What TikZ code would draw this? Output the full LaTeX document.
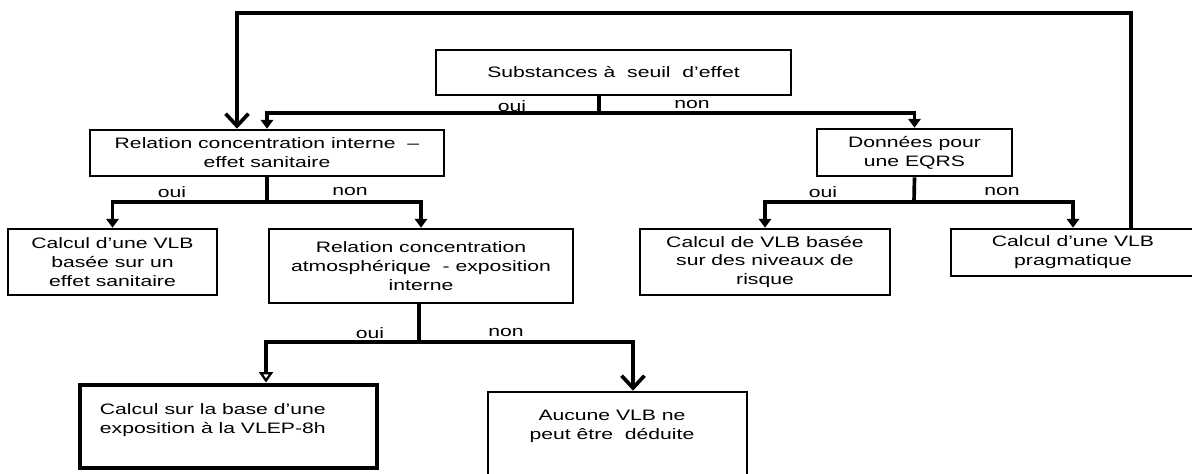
\documentclass[tikz,border=0pt]{standalone}
\usepackage{fontspec}
\setmainfont{Liberation Sans}[FakeStretch=1.4]
\usetikzlibrary{arrows.meta}

\tikzset{
  every node/.style={font=\fontsize{8.6}{10.8}\selectfont},
  box/.style={draw, line width=1.5pt, align=center, inner sep=0pt},
  thickbox/.style={draw, line width=2.8pt, inner sep=0pt},
  wire/.style={line width=2.1pt},
  conn/.style={wire, -{Triangle[width=7pt,length=5pt]}},
  openconn/.style={wire, -{Triangle[open,width=8pt,length=6pt,line width=1.3pt]}},
  bigconn/.style={wire, -{Straight Barb[width=13pt,length=7pt]}},
  lbl/.style={inner sep=0pt},
}

\begin{document}
\begin{tikzpicture}[x=0.02cm, y=-0.02cm]
    \useasboundingbox (0,0) rectangle (1192,473);
    % boxes
    \node[box, minimum width=7.1cm, minimum height=0.9cm] (subst) at (613.5,72.5)
      {Substances à~ seuil~ d’effet};
    \node[box, minimum width=7.08cm, minimum height=0.92cm] (relint) at (267,153)
      {Relation concentration interne~ –\\effet sanitaire};
    \node[box, minimum width=3.9cm, minimum height=0.94cm] (donnees) at (914.5,152.5)
      {Données pour\\une EQRS};
    \node[box, minimum width=4.18cm, minimum height=1.32cm] (vlbsan) at (112.5,262)
      {Calcul d’une VLB\\basée sur un\\effet sanitaire};
    \node[box, minimum width=6.08cm, minimum height=1.48cm] (relatm) at (421,266)
      {Relation concentration\\atmosphérique~ - exposition\\interne};
    \node[box, minimum width=5cm, minimum height=1.32cm] (vlbrisk) at (765,262)
      {Calcul de VLB basée\\sur des niveaux de\\risque};
    \node[box, minimum width=4.88cm, minimum height=0.94cm] (vlbprag) at (1073,252.5)
      {Calcul d’une VLB\\pragmatique};
    \node[thickbox, minimum width=5.94cm, minimum height=1.66cm] (vlep) at (228.5,426.5) {};
    \node[box, minimum width=5.18cm, minimum height=1.96cm] (aucune) at (617.5,441) {};
    \node[lbl, align=left, anchor=north west] (vleptxt)
      at ([xshift=0.44cm,yshift=-0.42cm]vlep.north west)
      {Calcul sur la base d’une\\exposition à la VLEP-8h};
    \node[lbl, align=center, anchor=north] (aucunetxt)
      at ([xshift=-0.11cm,yshift=-0.38cm]aucune.north)
      {Aucune VLB ne\\peut être~ déduite};

    % branch points
    \coordinate (s0) at (599,113);
    \coordinate (s1) at (267,202);
    \coordinate (s2) at (914,202);
    \coordinate (s3) at (419,342);
    \coordinate (v1) at (266,342);
    \coordinate (a1) at (633,342);
    \coordinate (l0) at (1131,13);
    \coordinate (l1) at (237,13);

    % connectors
    \draw[wire] (s0 |- subst.south) -- (s0);
    \draw[conn] (s0) -| (relint.north);
    \draw[conn] (s0) -| (donnees.north);
    \draw[wire] (relint.south) -- (s1);
    \draw[conn] (s1) -| (vlbsan.north);
    \draw[conn] (s1) -| (relatm.north);
    \draw[wire] (donnees.south) -- (s2);
    \draw[conn] (s2) -| (vlbrisk.north);
    \draw[conn] (s2) -| (vlbprag.north);
    \draw[wire] (s3 |- relatm.south) -- (s3);
    \draw[openconn] (s3) -- (v1) -- (v1 |- vlep.north);
    \draw[bigconn] (s3) -- (a1) -- (a1 |- aucune.north);
    \draw[bigconn] (l0 |- vlbprag.north) -- (l0) -- (l1) -- (l1 |- relint.north);

    % labels
    \node[lbl] (oui0) at (512,106) {oui};
    \node[lbl] (non0) at (692,105) {non};
    \node[lbl] (oui1) at (172,192) {oui};
    \node[lbl] (non1) at (350,192) {non};
    \node[lbl] (oui2) at (823,192) {oui};
    \node[lbl] (non2) at (1002,192) {non};
    \node[lbl] (oui3) at (370,333) {oui};
    \node[lbl] (non3) at (506,333) {non};
\end{tikzpicture}
\end{document}
